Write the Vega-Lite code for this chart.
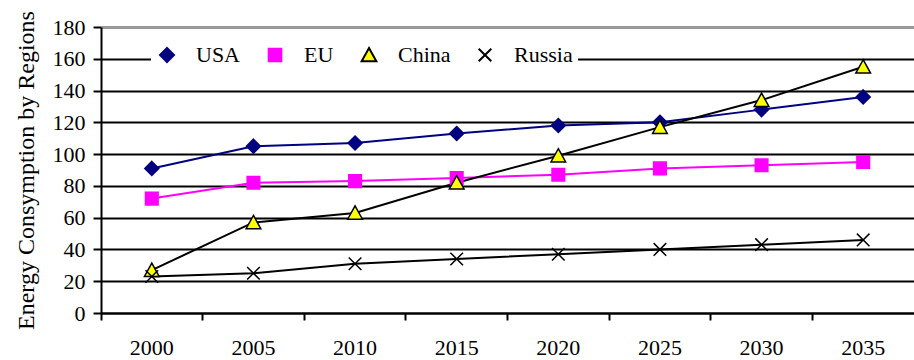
{
  "$schema": "https://vega.github.io/schema/vega-lite/v6.json",
  "width": 813,
  "height": 286,
  "autosize": {"type": "none"},
  "padding": {"left": 101, "top": 27, "right": 0, "bottom": 47},
  "background": "white",
  "config": {
    "view": {"stroke": null},
    "font": "Liberation Serif, Times New Roman, serif",
    "legend": {
      "orient": "none",
      "legendX": 50,
      "legendY": 12,
      "direction": "horizontal",
      "title": null,
      "fillColor": "white",
      "padding": 5,
      "labelFontSize": 22,
      "labelColor": "black",
      "symbolSize": 196,
      "symbolStrokeWidth": 2,
      "symbolOpacity": 1,
      "labelOffset": 18,
      "columnPadding": 23
    }
  },
  "data": {
    "values": [
      {"year": "2000", "region": "USA", "series": "USA", "value": 91},
      {"year": "2005", "region": "USA", "series": "USA", "value": 105},
      {"year": "2010", "region": "USA", "series": "USA", "value": 107},
      {"year": "2015", "region": "USA", "series": "USA", "value": 113},
      {"year": "2020", "region": "USA", "series": "USA", "value": 118},
      {"year": "2025", "region": "USA", "series": "USA", "value": 120},
      {"year": "2030", "region": "USA", "series": "USA", "value": 128},
      {"year": "2035", "region": "USA", "series": "USA", "value": 136},
      {"year": "2000", "region": "EU", "series": "EU", "value": 72},
      {"year": "2005", "region": "EU", "series": "EU", "value": 82},
      {"year": "2010", "region": "EU", "series": "EU", "value": 83},
      {"year": "2015", "region": "EU", "series": "EU", "value": 85},
      {"year": "2020", "region": "EU", "series": "EU", "value": 87},
      {"year": "2025", "region": "EU", "series": "EU", "value": 91},
      {"year": "2030", "region": "EU", "series": "EU", "value": 93},
      {"year": "2035", "region": "EU", "series": "EU", "value": 95},
      {"year": "2000", "region": "China", "series": "China", "value": 27},
      {"year": "2005", "region": "China", "series": "China", "value": 57},
      {"year": "2010", "region": "China", "series": "China", "value": 63},
      {"year": "2015", "region": "China", "series": "China", "value": 82},
      {"year": "2020", "region": "China", "series": "China", "value": 99},
      {"year": "2025", "region": "China", "series": "China", "value": 117},
      {"year": "2030", "region": "China", "series": "China", "value": 134},
      {"year": "2035", "region": "China", "series": "China", "value": 155},
      {"year": "2000", "region": "Russia", "series": "Russia", "value": 23},
      {"year": "2005", "region": "Russia", "series": "Russia", "value": 25},
      {"year": "2010", "region": "Russia", "series": "Russia", "value": 31},
      {"year": "2015", "region": "Russia", "series": "Russia", "value": 34},
      {"year": "2020", "region": "Russia", "series": "Russia", "value": 37},
      {"year": "2025", "region": "Russia", "series": "Russia", "value": 40},
      {"year": "2030", "region": "Russia", "series": "Russia", "value": 43},
      {"year": "2035", "region": "Russia", "series": "Russia", "value": 46}
    ]
  },
  "encoding": {
    "y": {
      "field": "value",
      "type": "quantitative",
      "scale": {"domain": [0, 180], "nice": false, "zero": true},
      "axis": {
        "values": [0, 20, 40, 60, 80, 100, 120, 140, 160, 180],
        "title": "Energy Consymption by Regions",
        "titleFontSize": 24,
        "titleFontWeight": "normal",
        "titleColor": "black",
        "titlePadding": 14,
        "labelFontSize": 22,
        "labelColor": "black",
        "labelPadding": 8,
        "tickSize": 8,
        "tickWidth": 2,
        "tickColor": "black",
        "domainColor": "black",
        "domainWidth": 2,
        "grid": true,
        "gridColor": {"condition": {"test": "datum.value === 180", "value": "#999999"}, "value": "black"},
        "gridWidth": {"condition": {"test": "datum.value === 180", "value": 3}, "value": 2},
        "gridOpacity": 1
      }
    }
  },
  "layer": [
    {
      "mark": {"type": "line", "strokeWidth": 2},
      "encoding": {
        "x": {
          "field": "year",
          "type": "ordinal",
          "scale": {"type": "band", "paddingInner": 0, "paddingOuter": 0},
          "axis": {
            "orient": "bottom",
            "title": null,
            "ticks": false,
            "grid": false,
            "domain": true,
            "domainColor": "black",
            "domainWidth": 2,
            "labelAngle": 0,
            "labelFontSize": 22,
            "labelColor": "black",
            "labelPadding": 24
          }
        },
        "color": {
          "field": "region",
          "type": "nominal",
          "scale": {"domain": ["USA", "EU", "China", "Russia"], "range": ["#000080", "#FF00FF", "#000000", "#000000"]},
          "legend": {"title": null}
        }
      }
    },
    {
      "mark": {"type": "point", "size": 196, "opacity": 1, "fillOpacity": 1, "strokeOpacity": 1, "strokeWidth": 1.5},
      "encoding": {
        "x": {
          "field": "year",
          "type": "ordinal",
          "scale": {"type": "band", "paddingInner": 0, "paddingOuter": 0},
          "axis": {
            "orient": "bottom",
            "title": null,
            "bandPosition": 0,
            "labels": false,
            "domain": false,
            "grid": false,
            "ticks": true,
            "tickSize": 7,
            "tickWidth": 2,
            "tickColor": "black"
          }
        },
        "shape": {
          "field": "series",
          "type": "nominal",
          "scale": {"domain": ["USA", "EU", "China", "Russia"], "range": ["M0,-1L1,0L0,1L-1,0Z", "M-0.9,-0.9L0.9,-0.9L0.9,0.9L-0.9,0.9Z", "M0,-1L1.05,0.9L-1.05,0.9Z", "M-0.9,-0.9L0.9,0.9M-0.9,0.9L0.9,-0.9"]},
          "legend": null
        },
        "fill": {
          "field": "series",
          "type": "nominal",
          "scale": {"domain": ["USA", "EU", "China", "Russia"], "range": ["#000080", "#FF00FF", "#FFFF00", "transparent"]},
          "legend": null
        },
        "stroke": {
          "field": "series",
          "type": "nominal",
          "scale": {"domain": ["USA", "EU", "China", "Russia"], "range": ["#000080", "#FF00FF", "#000000", "#000000"]},
          "legend": null
        }
      }
    },
    {
      "transform": [{"filter": "datum.value < 0"}],
      "mark": {"type": "point", "size": 196, "opacity": 1, "fillOpacity": 1, "strokeWidth": 2},
      "encoding": {
        "shape": {
          "field": "region",
          "type": "nominal",
          "scale": {"domain": ["USA", "EU", "China", "Russia"], "range": ["M-3.7,0L3.7,0M0,-0.9L0.9,0L0,0.9L-0.9,0Z", "M-3.7,0L3.7,0M-0.85,-0.85L0.85,-0.85L0.85,0.85L-0.85,0.85Z", "M-3.7,0L-0.45,0M0.45,0L3.7,0M0,-0.8L1,1L-1,1Z", "M-3.7,0L3.7,0M-0.9,-0.9L0.9,0.9M-0.9,0.9L0.9,-0.9"]},
          "legend": {"title": null}
        },
        "fill": {
          "field": "region",
          "type": "nominal",
          "scale": {"domain": ["USA", "EU", "China", "Russia"], "range": ["#000080", "#FF00FF", "#FFFF00", "transparent"]},
          "legend": {"title": null}
        }
      }
    }
  ],
  "resolve": {"axis": {"x": "independent"}}
}
